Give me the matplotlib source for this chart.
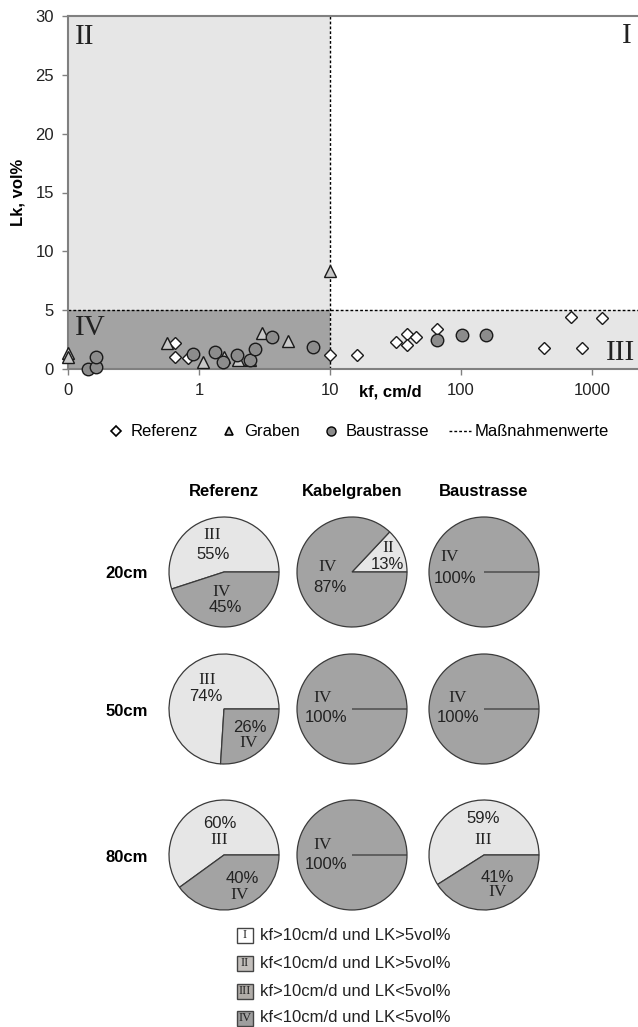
import matplotlib.pyplot as plt
from matplotlib.lines import Line2D
from matplotlib.patches import Rectangle

plt.rcParams['font.family'] = ['Liberation Sans', 'DejaVu Sans']
SERIF = ['Liberation Serif', 'DejaVu Serif']

# Streudiagramm: kf (cm/d) gegen Luftkapazitaet (vol%)
ref_kf = [0.66, 0.66, 0.83, 10, 16, 32, 39, 39, 45, 66, 430, 690, 830, 1200]
ref_lk = [2.2, 1.0, 0.9, 1.2, 1.2, 2.3, 3.0, 2.0, 2.7, 3.4, 1.8, 4.4, 1.8, 4.3]

gra_kf = [0.1, 0.1, 0.57, 1.07, 1.55, 2.0, 2.45, 3.0, 4.8, 10]
gra_lk = [1.4, 1.0, 2.2, 0.6, 1.0, 0.8, 0.8, 3.1, 2.4, 8.3]

bau_kf = [0.142, 0.163, 0.163, 0.9, 1.32, 1.52, 1.95, 2.45, 2.67, 3.6, 7.4, 65, 102, 155]
bau_lk = [0.0, 0.2, 1.0, 1.3, 1.45, 0.6, 1.2, 0.75, 1.7, 2.7, 1.9, 2.5, 2.9, 2.9]

kf_grenze = 10
lk_grenze = 5
x_ticks = [0.1, 1, 10, 100, 1000]
x_ticklabels = ['0', '1', '10', '100', '1000']
y_ticks = [0, 5, 10, 15, 20, 25, 30]

# Kreisdiagramme: Anteile der Quadranten (helle Flaeche, dann IV)
tiefen = ['20cm', '50cm', '80cm']
varianten = ['Referenz', 'Kabelgraben', 'Baustrasse']
ref_hell = [55, 74, 60]
ref_iv = [45, 26, 40]
kab_hell = [13, 0, 0]
kab_iv = [87, 100, 100]
bau_hell = [0, 0, 59]
bau_iv = [100, 100, 41]
hell_name = ['III', 'II', 'III']

leg_roem = ['I', 'II', 'III', 'IV']
leg_text = ['kf>10cm/d und LK>5vol%', 'kf<10cm/d und LK>5vol%',
            'kf>10cm/d und LK<5vol%', 'kf<10cm/d und LK<5vol%']

HELL = '#e6e6e6'
DUNKEL = '#a3a3a3'
W, H = 638, 1027

fig = plt.figure(figsize=(W / 100, H / 100), dpi=100)

# ---------------- Streudiagramm ----------------
ax = fig.add_axes([68 / W, 1 - 369 / H, 570 / W, 353 / H])
ax.set_xscale('log')
ax.set_xlim(0.1, 2240)
ax.set_ylim(0, 30)
x0, x1 = ax.get_xlim()
ax.fill_between([x0, kf_grenze], lk_grenze, 30, color=HELL, lw=0, zorder=0)
ax.fill_between([x0, kf_grenze], 0, lk_grenze, color=DUNKEL, lw=0, zorder=0)
ax.fill_between([kf_grenze, x1], 0, lk_grenze, color=HELL, lw=0, zorder=0)
ax.axvline(kf_grenze, color='black', lw=1, ls=(0, (2, 1.5)), zorder=1)
ax.axhline(lk_grenze, color='black', lw=1, ls=(0, (2, 1.5)), zorder=1)

ax.plot(ref_kf, ref_lk, 'D', ms=6.5, mfc='white', mec='#1a1a1a', mew=1.0,
        ls='none', clip_on=False, zorder=3)
ax.plot(gra_kf, gra_lk, '^', ms=8.5, mfc='#c8c8c8', mec='#1a1a1a', mew=1.0,
        ls='none', clip_on=False, zorder=3)
ax.plot(bau_kf, bau_lk, 'o', ms=9, mfc='#8c8c8c', mec='#1a1a1a', mew=1.0,
        ls='none', clip_on=False, zorder=3)

ax.text(0.012, 0.94, 'II', transform=ax.transAxes, family=SERIF, fontsize=21,
        ha='left', va='center', color='#222222')
ax.text(0.989, 0.943, 'I', transform=ax.transAxes, family=SERIF, fontsize=21,
        ha='right', va='center', color='#222222')
ax.text(0.012, 0.116, 'IV', transform=ax.transAxes, family=SERIF, fontsize=21,
        ha='left', va='center', color='#222222')
ax.text(0.995, 0.045, 'III', transform=ax.transAxes, family=SERIF, fontsize=21,
        ha='right', va='center', color='#222222')

ax.set_xticks(x_ticks)
ax.set_xticklabels(x_ticklabels)
ax.xaxis.set_minor_locator(plt.NullLocator())
ax.set_yticks(y_ticks)
ax.tick_params(axis='both', direction='out', length=4, width=1, color='#808080',
               labelsize=12, labelcolor='#222222')
ax.tick_params(axis='x', pad=6)
ax.tick_params(axis='y', pad=6)
for side in ['left', 'top', 'bottom']:
    ax.spines[side].set_color('#808080')
    ax.spines[side].set_linewidth(1.5)
ax.spines['right'].set_visible(False)

ax.set_ylabel('Lk, vol%', fontsize=12, fontweight='bold')
ax.yaxis.set_label_coords(-0.075, 0.5)
ax.set_xlabel('kf, cm/d', fontsize=12, fontweight='bold')
ax.xaxis.set_label_coords(0.565, -0.045)

handles = [
    Line2D([], [], marker='D', ms=5, mfc='white', mec='black', mew=1.2, ls='none'),
    Line2D([], [], marker='^', ms=6, mfc='#c8c8c8', mec='black', mew=1.2, ls='none'),
    Line2D([], [], marker='o', ms=6.5, mfc='#8c8c8c', mec='black', mew=1.0, ls='none'),
    Line2D([], [], color='black', lw=1, ls=(0, (2, 1.5))),
]
fig.legend(handles, ['Referenz', 'Graben', 'Baustrasse', 'Maßnahmenwerte'],
           loc='center', bbox_to_anchor=(357 / W, 1 - 432 / H), ncol=4,
           frameon=False, fontsize=12, handlelength=1.3, handletextpad=0.25,
           columnspacing=1.2)

# ---------------- Kreisdiagramme ----------------
zx = [224, 352, 484]
zy = [572, 709, 855]
r = 55
hell = [ref_hell, kab_hell, bau_hell]
dunkel = [ref_iv, kab_iv, bau_iv]

# Beschriftungspositionen (Roemisch, Prozent) je Segment
lab_pos = {
    (0, 0): [((-0.22, 0.67), (-0.20, 0.31)), ((-0.04, -0.36), (0.02, -0.65))],
    (0, 1): [((0.65, 0.44), (0.64, 0.13)), ((-0.45, 0.09), (-0.40, -0.29))],
    (0, 2): [None, ((-0.62, 0.27), (-0.53, -0.11))],
    (1, 0): [((-0.31, 0.53), (-0.33, 0.22)), ((0.45, -0.62), (0.47, -0.33))],
    (1, 1): [None, ((-0.53, 0.20), (-0.47, -0.15))],
    (1, 2): [None, ((-0.49, 0.20), (-0.47, -0.15))],
    (2, 0): [((-0.09, 0.27), (-0.07, 0.58)), ((0.29, -0.73), (0.33, -0.42))],
    (2, 1): [None, ((-0.53, 0.18), (-0.47, -0.18))],
    (2, 2): [((-0.02, 0.27), (-0.02, 0.67)), ((0.24, -0.67), (0.25, -0.40))],
}

for j, name in enumerate(varianten):
    fig.text(zx[j] / W, 1 - 492 / H, name, ha='center', va='center',
             fontsize=12, fontweight='bold')
for i, t in enumerate(tiefen):
    fig.text(127 / W, 1 - (zy[i] + 2) / H, t, ha='center', va='center',
             fontsize=12, fontweight='bold')
    for j in range(3):
        s = 1.04
        pax = fig.add_axes([(zx[j] - r * s) / W, 1 - (zy[i] + r * s) / H,
                            2 * r * s / W, 2 * r * s / H])
        werte = [hell[j][i], dunkel[j][i]]
        wedges, _ = pax.pie(werte, colors=[HELL, DUNKEL], startangle=0,
                            counterclock=True,
                            wedgeprops=dict(edgecolor='#3a3a3a', linewidth=0.9))
        # leeres Segment als Strich oben zeichnen (100%-Kreise)
        for w, v in zip(wedges, werte):
            if v == 0:
                w.set_zorder(5)
        pax.set_xlim(-s, s)
        pax.set_ylim(-s, s)
        namen = [hell_name[j], 'IV']
        for k, pos in enumerate(lab_pos[(i, j)]):
            if pos is None:
                continue
            (rx, ry), (px, py) = pos
            pax.text(rx, ry, namen[k], family=SERIF, fontsize=12.5,
                     ha='center', va='center', color='#222222', zorder=6)
            pax.text(px, py, f'{werte[k]}%', fontsize=12,
                     ha='center', va='center', color='#222222', zorder=6)

# ---------------- Legende Quadranten ----------------
leg_farben = ['white', '#c2bebb', '#b0aca8', '#9e9e9e']
leg_y = [935, 963, 991, 1018]
for k in range(4):
    fig.add_artist(Rectangle((237 / W, 1 - (leg_y[k] + 7.5) / H), 16 / W, 15 / H,
                             transform=fig.transFigure, facecolor=leg_farben[k],
                             edgecolor='#444444', lw=1))
    fig.text(245 / W, 1 - leg_y[k] / H, leg_roem[k], family=SERIF, fontsize=9,
             ha='center', va='center', color='#222222')
    fig.text(260 / W, 1 - leg_y[k] / H, leg_text[k], fontsize=12,
             ha='left', va='center', color='#222222')

fig.savefig('out.png', dpi=100)
